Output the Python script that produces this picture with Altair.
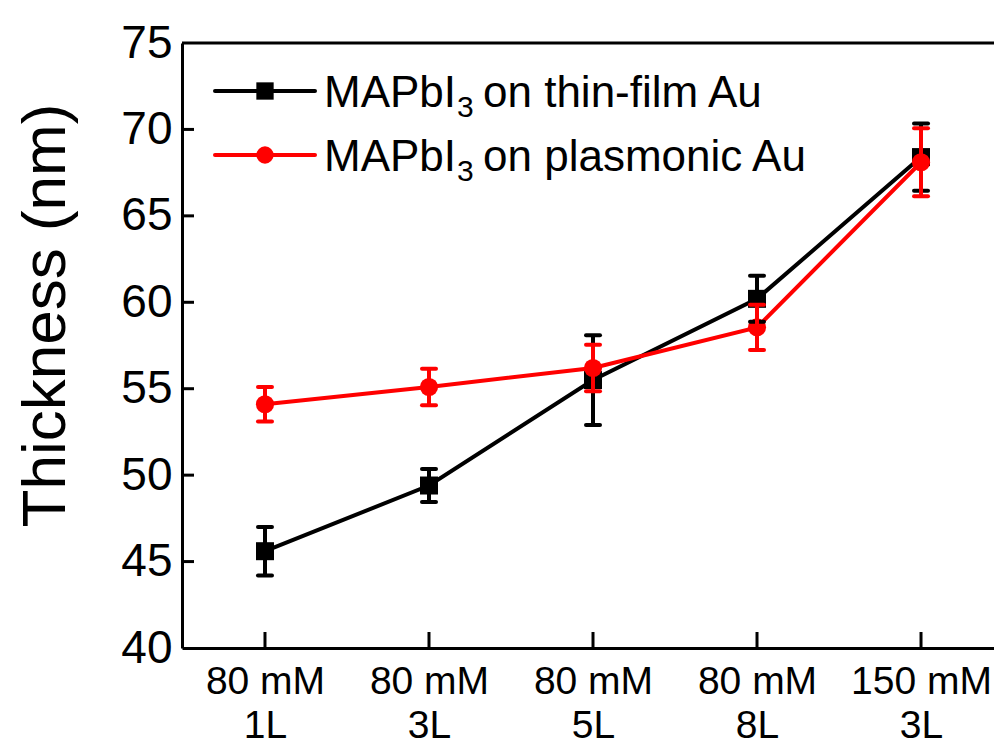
import json
import altair as alt
import pandas as pd

# ---- data ----
concentrations = ["80 mM", "80 mM", "80 mM", "80 mM", "150 mM"]
layer_counts = ["1L", "3L", "5L", "8L", "3L"]
thin_film = [45.6, 49.4, 55.5, 60.2, 68.4]
thin_film_err = [1.4, 0.95, 2.6, 1.33, 1.95]
plasmonic = [54.1, 55.1, 56.2, 58.55, 68.1]
plasmonic_err = [1.0, 1.05, 1.35, 1.31, 1.97]
y_tick_values = [40, 45, 50, 55, 60, 65, 70, 75]
legend_prefix = "MAPbI"
legend_sub = "3"
legend_suffix = ["on thin-film Au", "on plasmonic Au"]

FONT = "Liberation Sans"
W, H = 812, 605
positions = list(range(1, len(concentrations) + 1))


def series_df(vals, errs):
    return pd.DataFrame({
        "pos": positions,
        "value": vals,
        "lo": [v - e for v, e in zip(vals, errs)],
        "hi": [v + e for v, e in zip(vals, errs)],
    })


df_thin = series_df(thin_film, thin_film_err)
df_plas = series_df(plasmonic, plasmonic_err)

label_arr = [[c, l] for c, l in zip(concentrations, layer_counts)]
label_expr = json.dumps(label_arr).replace('"', "'") + "[datum.value - 1]"

x_enc = alt.X(
    "pos:Q",
    scale=alt.Scale(domain=[0.494, 5.445], nice=False, zero=False),
    axis=alt.Axis(values=positions, labelExpr=label_expr, title=None, ticks=False,
                  grid=False, domainWidth=3, domainColor="black", labelFontSize=39,
                  labelLineHeight=44, labelPadding=14, labelColor="black",
                  labelFlush=False, labelOverlap=False, labelFont=FONT),
)
y_enc = alt.Y(
    "value:Q",
    scale=alt.Scale(domain=[40, 75], nice=False, zero=False),
    axis=alt.Axis(values=y_tick_values, title="Thickness (nm)", ticks=False, grid=False,
                  domainWidth=3, domainColor="black", labelFontSize=46, labelPadding=10,
                  labelColor="black", labelFont=FONT, titleFont=FONT, titleFontSize=62,
                  titleFontWeight="normal", titleColor="black", titleX=-118, titleY=272,
                  titleBaseline="alphabetic", titleAlign="center"),
)

one_row = pd.DataFrame({"k": [0]})


def series_layers(df, color, shape_chart):
    line = alt.Chart(df).mark_line(color=color, strokeWidth=4).encode(x=x_enc, y=y_enc)
    pts = shape_chart(alt.Chart(df)).encode(x=x_enc, y=y_enc)
    bar = alt.Chart(df).mark_rule(color=color, strokeWidth=4).encode(
        x=x_enc, y=alt.Y("lo:Q"), y2=alt.Y2("hi"))
    cap_lo = alt.Chart(df).mark_rule(color=color, strokeWidth=4, xOffset=-7, x2Offset=7,
                                     strokeCap="round").encode(
        x=x_enc, x2=alt.X2("pos"), y=alt.Y("lo:Q"))
    cap_hi = alt.Chart(df).mark_rule(color=color, strokeWidth=4, xOffset=-7, x2Offset=7,
                                     strokeCap="round").encode(
        x=x_enc, x2=alt.X2("pos"), y=alt.Y("hi:Q"))
    return line, pts, [bar, cap_lo, cap_hi]


l1, p1, e1 = series_layers(
    df_thin, "black",
    lambda c: c.mark_point(shape="square", filled=True, size=324, color="black", opacity=1))
l2, p2, e2 = series_layers(
    df_plas, "#ff0000",
    lambda c: c.mark_circle(size=330, color="#ff0000", opacity=1))

# inward ticks
y_ticks = alt.Chart(pd.DataFrame({"value": y_tick_values[1:-1]})).mark_rule(
    color="black", strokeWidth=3).encode(x=alt.value(0), x2=alt.value(12), y=y_enc)
x_ticks = alt.Chart(pd.DataFrame({"pos": positions})).mark_rule(
    color="black", strokeWidth=3).encode(x=x_enc, y=alt.value(H), y2=alt.value(H - 16))
top_border = alt.Chart(one_row).mark_rule(color="black", strokeWidth=3).encode(
    x=alt.value(0), x2=alt.value(W), y=alt.value(0))

# legend
legend_layers = []
colors = ["black", "#ff0000"]
rows_y = [48, 112]
for i, (col, ly) in enumerate(zip(colors, rows_y)):
    legend_layers.append(alt.Chart(one_row).mark_rule(color=col, strokeWidth=4, strokeCap="round").encode(
        x=alt.value(33), x2=alt.value(133), y=alt.value(ly)))
    if i == 0:
        legend_layers.append(alt.Chart(one_row).mark_point(
            shape="square", filled=True, size=300, color=col, opacity=1).encode(
            x=alt.value(83), y=alt.value(ly)))
    else:
        legend_layers.append(alt.Chart(one_row).mark_circle(size=300, color=col, opacity=1).encode(
            x=alt.value(83), y=alt.value(ly)))
    base_y = ly + 16
    legend_layers.append(alt.Chart(one_row).mark_text(
        align="left", baseline="alphabetic", fontSize=44, font=FONT, color="black").encode(
        x=alt.value(142), y=alt.value(base_y), text=alt.value(legend_prefix)))
    legend_layers.append(alt.Chart(one_row).mark_text(
        align="left", baseline="alphabetic", fontSize=30, font=FONT, color="black").encode(
        x=alt.value(275), y=alt.value(base_y + 10), text=alt.value(legend_sub)))
    legend_layers.append(alt.Chart(one_row).mark_text(
        align="left", baseline="alphabetic", fontSize=44, font=FONT, color="black").encode(
        x=alt.value(301), y=alt.value(base_y), text=alt.value(legend_suffix[i])))

chart = alt.layer(
    l1, l2, p1, p2, *e1, *e2, y_ticks, x_ticks, top_border, *legend_layers
).properties(
    width=W, height=H,
    autosize=alt.AutoSizeParams(type="none"),
    padding={"left": 174, "top": 35, "right": 0, "bottom": 100},
).configure_view(stroke=None).configure(font=FONT)

chart.save("out.html", embed_options={"renderer": "svg", "actions": False})
